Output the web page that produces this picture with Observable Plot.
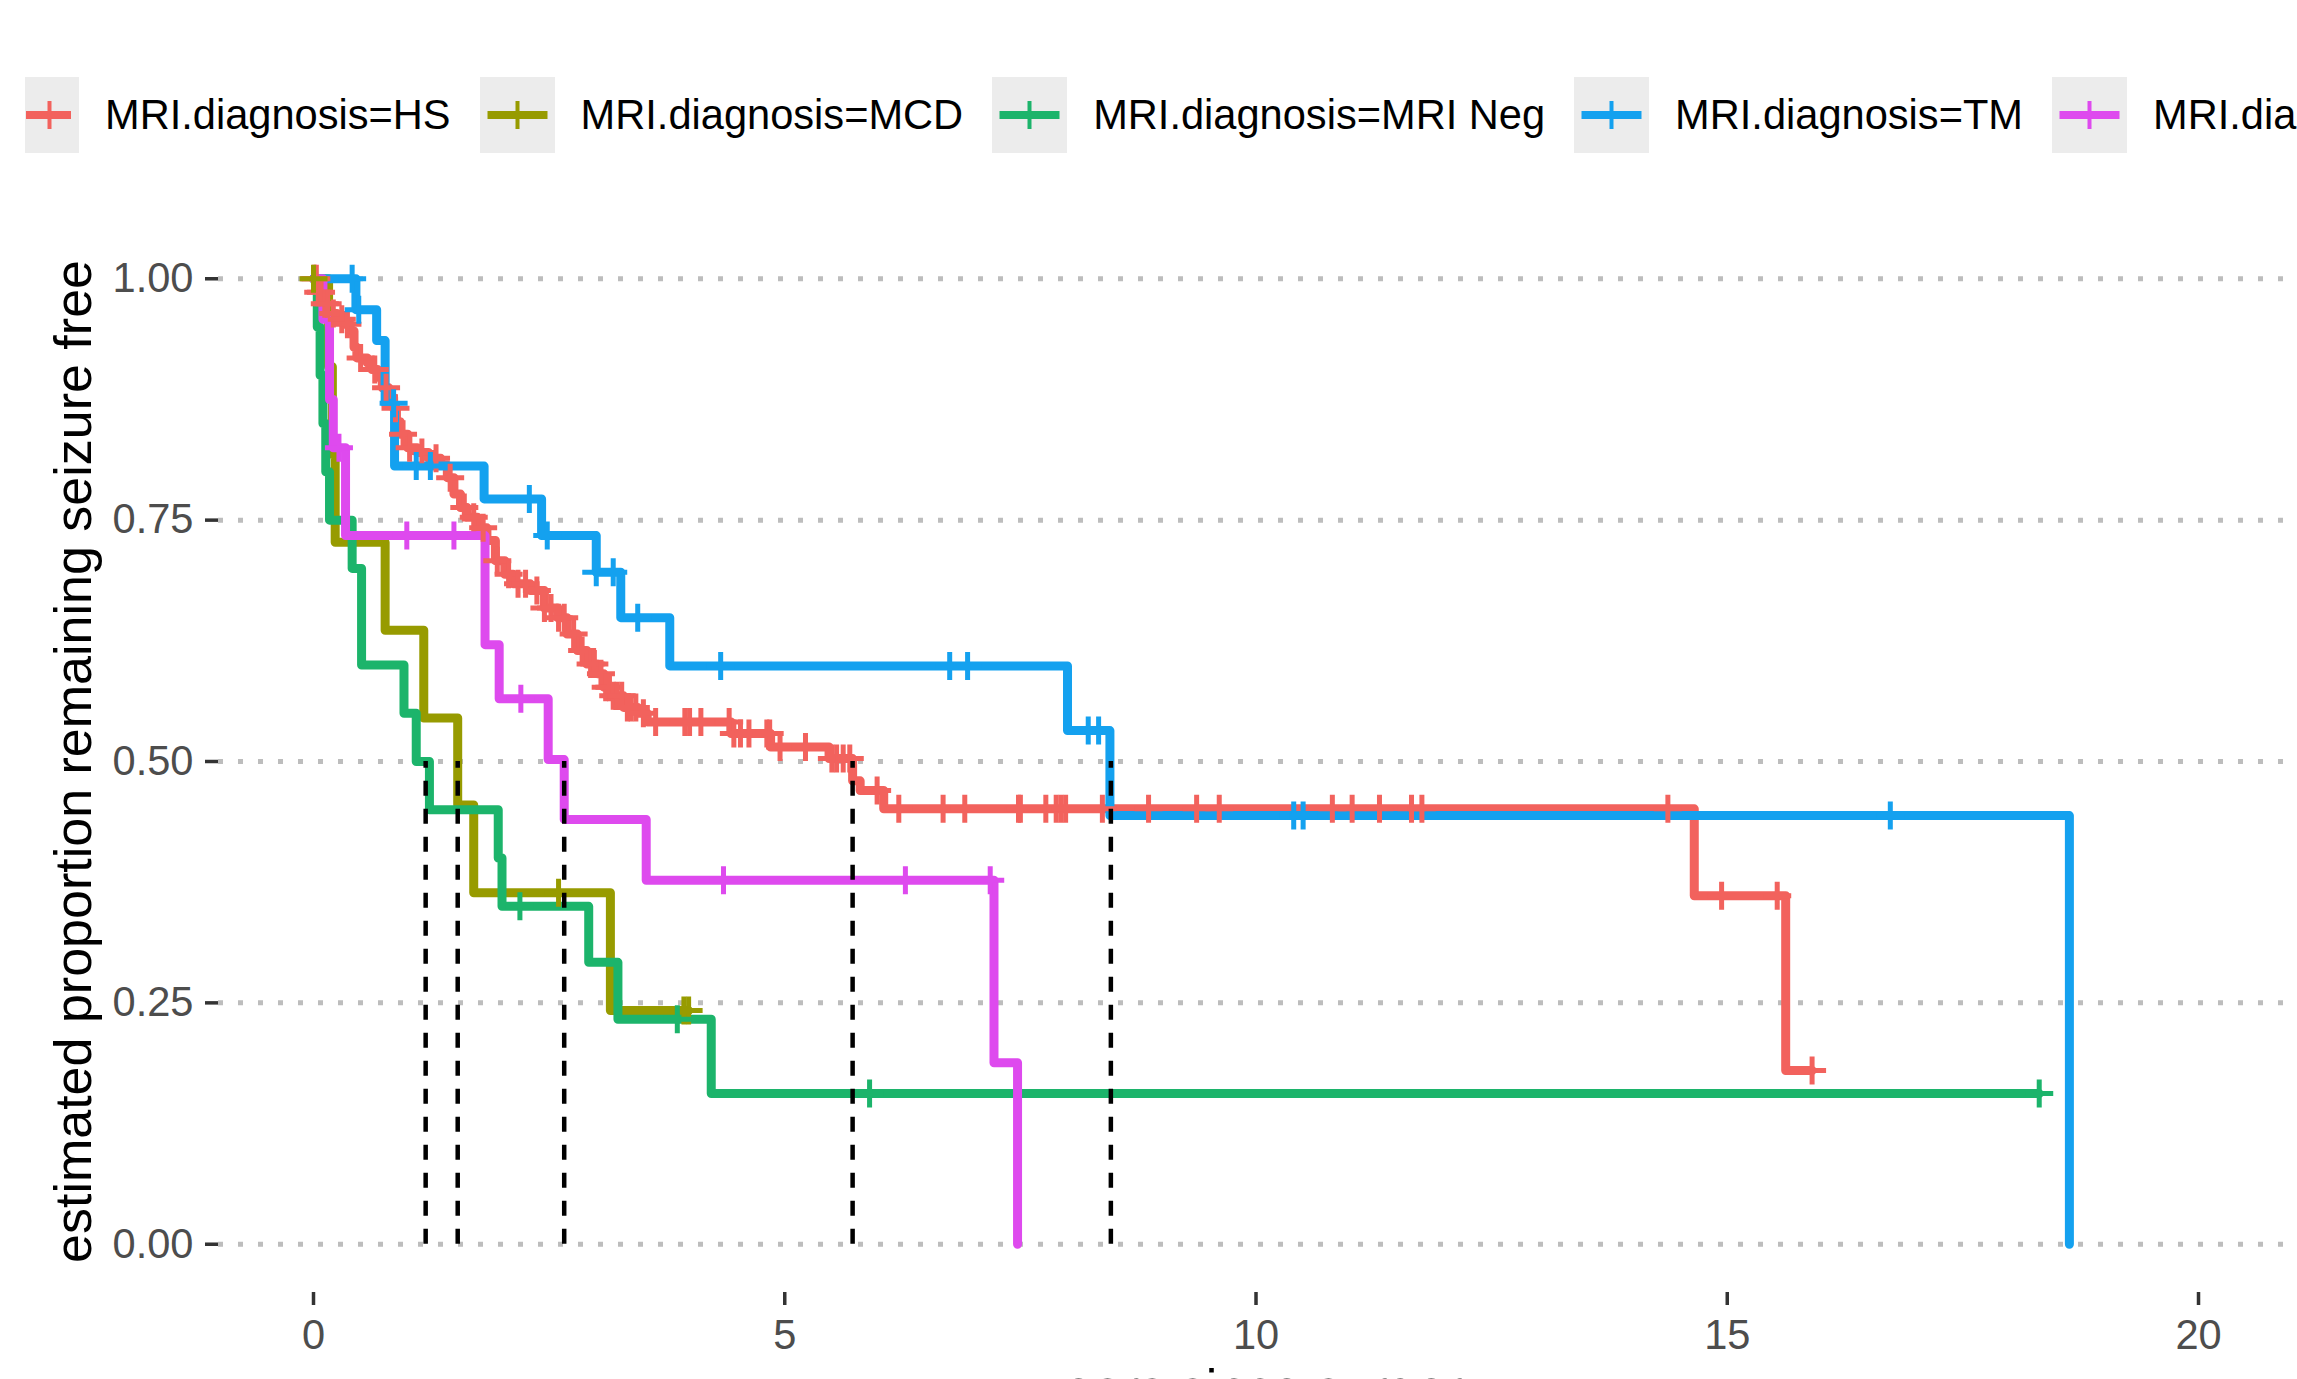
<!DOCTYPE html>
<html>
<head>
<meta charset="utf-8">
<script src="https://cdn.jsdelivr.net/npm/d3@7"></script>
<script src="https://cdn.jsdelivr.net/npm/@observablehq/plot@0.6"></script>
<style>
  html, body { margin: 0; padding: 0; background: #fff; }
  body { width: 2297px; height: 1379px; overflow: hidden; position: relative;
         font-family: "Liberation Sans", Arial, Helvetica, sans-serif; }
  #legend { position: absolute; left: 25px; top: 77px; display: flex; align-items: center; white-space: nowrap; }
  .item { display: flex; align-items: center; margin-right: 29px; }
  .item svg { display: block; }
  .item span { margin-left: 26px; font-size: 41.6px; color: #000; }
  #chart { position: absolute; left: 0; top: 200px; width: 2328px; }
  #chart svg { max-width: none !important; }
</style>
</head>
<body>
<div id="legend"></div>
<div id="chart"></div>
<script>
// ---------- data ----------
const groups = ["HS", "MCD", "MRI Neg", "TM", "Vascular"];
const groupColors = ["#F2625D", "#979B00", "#1CB46B", "#14A1EF", "#DE4AEE"];
const legendPrefix = "MRI.diagnosis=";

// HS: step times and survival after each step (last entry = end of follow-up)
const hsTime = [0, 0.04, 0.10, 0.18, 0.25, 0.32, 0.39, 0.43, 0.46, 0.57, 0.62, 0.68, 0.73, 0.80, 0.85, 0.88, 0.92, 1.00, 1.10, 1.22, 1.35, 1.42, 1.49, 1.56, 1.63, 1.74, 1.84, 1.93, 2.03, 2.12, 2.30, 2.45, 2.59, 2.69, 2.80, 2.90, 3.01, 3.08, 3.18, 3.29, 3.44, 3.54, 4.43, 4.85, 5.47, 5.72, 5.80, 6.05, 14.65, 15.62, 15.90];
const hsSurv = [1, 0.986, 0.974, 0.964, 0.958, 0.953, 0.946, 0.929, 0.918, 0.913, 0.906, 0.898, 0.887, 0.877, 0.866, 0.852, 0.839, 0.825, 0.820, 0.814, 0.807, 0.794, 0.777, 0.763, 0.753, 0.742, 0.729, 0.708, 0.694, 0.684, 0.677, 0.659, 0.649, 0.632, 0.615, 0.601, 0.591, 0.577, 0.568, 0.556, 0.550, 0.541, 0.529, 0.515, 0.503, 0.480, 0.470, 0.451, 0.361, 0.180, 0.180];
const hsCensor = [0.01, 0.03, 0.05, 0.08, 0.12, 0.15, 0.21, 0.30, 0.36, 0.50, 0.65, 0.77, 0.87, 0.95, 1.02, 1.15, 1.30, 1.45, 1.60, 1.70, 1.80, 1.95, 2.07, 2.17, 2.25, 2.37, 2.45, 2.52, 2.60, 2.66, 2.76, 2.85, 2.94, 2.98, 3.05, 3.10, 3.14, 3.18, 3.22, 3.27, 3.33, 3.37, 3.42, 3.50, 3.63, 3.94, 3.99, 4.11, 4.41, 4.46, 4.53, 4.62, 4.81, 4.84, 4.95, 5.22, 5.50, 5.55, 5.62, 5.69, 5.98, 6.21, 6.68, 6.91, 7.48, 7.50, 7.77, 7.88, 7.93, 7.98, 8.37, 8.86, 9.37, 9.61, 10.81, 11.02, 11.31, 11.65, 11.76, 14.37, 14.94, 15.53, 15.90];

// MCD
const mcdTime = [0, 0.16, 0.20, 0.23, 0.76, 1.17, 1.53, 1.70, 3.15, 3.98];
const mcdSurv = [1, 0.909, 0.818, 0.727, 0.636, 0.545, 0.455, 0.364, 0.242, 0.242];
const mcdCensor = [0.0, 2.60, 3.93, 3.98];

// MRI Neg
const negTime = [0, 0.04, 0.07, 0.10, 0.13, 0.17, 0.41, 0.51, 0.96, 1.09, 1.23, 1.96, 2.00, 2.92, 3.23, 4.22, 18.31];
const negSurv = [1, 0.95, 0.90, 0.85, 0.80, 0.75, 0.70, 0.60, 0.55, 0.50, 0.45, 0.40, 0.35, 0.292, 0.233, 0.156, 0.156];
const negCensor = [2.19, 3.86, 5.90, 18.31];

// TM
const tmTime = [0, 0.45, 0.67, 0.76, 0.86, 1.81, 2.42, 3.00, 3.26, 3.78, 8.00, 8.45, 18.63];
const tmSurv = [1, 0.968, 0.936, 0.871, 0.806, 0.772, 0.734, 0.696, 0.649, 0.599, 0.532, 0.444, 0];
const tmCensor = [0.41, 0.48, 0.85, 1.09, 1.24, 2.29, 2.48, 3.00, 3.18, 3.44, 4.32, 6.75, 6.94, 8.22, 8.33, 10.40, 10.50, 16.73];

// fifth group (magenta)
const vTime = [0, 0.10, 0.17, 0.21, 0.34, 1.82, 1.97, 2.49, 2.66, 3.53, 7.22, 7.47];
const vSurv = [1, 0.958, 0.875, 0.825, 0.734, 0.621, 0.565, 0.502, 0.440, 0.377, 0.188, 0];
const vCensor = [0.27, 0.99, 1.49, 2.20, 4.35, 6.28, 7.18];

// median survival times (dashed verticals)
const medianTimes = [5.72, 1.53, 1.19, 8.46, 2.66];

const xTicks = [0, 5, 10, 15, 20];
const yTicks = [0, 0.25, 0.5, 0.75, 1];
const xTitle = "years since surgery";
const yTitle = "estimated proportion remaining seizure free";

// ---------- build tables ----------
const series = [
  {group: groups[0], time: hsTime, surv: hsSurv, censor: hsCensor},
  {group: groups[1], time: mcdTime, surv: mcdSurv, censor: mcdCensor},
  {group: groups[2], time: negTime, surv: negSurv, censor: negCensor},
  {group: groups[3], time: tmTime, surv: tmSurv, censor: tmCensor},
  {group: groups[4], time: vTime, surv: vSurv, censor: vCensor}
];
const curveRows = series.flatMap(s => s.time.map((t, i) => ({group: s.group, time: t, surv: s.surv[i]})));
const censorRows = series.flatMap(s => s.censor.map(t => ({
  group: s.group, time: t, surv: s.surv[Math.max(0, d3.bisectRight(s.time, t) - 1)]
})));

// stroked "+" symbol (like ggplot shape 3)
const crossSymbol = {
  draw(context, size) {
    const r = Math.sqrt(size / Math.PI);
    context.moveTo(-r, 0); context.lineTo(r, 0);
    context.moveTo(0, -r); context.lineTo(0, r);
  }
};

// ---------- legend ----------
const legend = document.getElementById("legend");
groups.forEach((g, i) => {
  const item = document.createElement("div");
  item.className = "item";
  const c = groupColors[i];
  // the first key is partly hidden at its left side in the reference
  const w = i === 0 ? 54 : 75;
  const cx = i === 0 ? 24.5 : 37.5;
  const lx1 = i === 0 ? 1 : 7.5;
  const lx2 = i === 0 ? 46 : 67.5;
  item.innerHTML =
    `<svg width="${w}" height="76" viewBox="0 0 ${w} 76">
       <rect x="0" y="0" width="${w}" height="76" fill="#ececec"/>
       <line x1="${lx1}" x2="${lx2}" y1="38" y2="38" stroke="${c}" stroke-width="8"/>
       <line x1="${cx}" x2="${cx}" y1="24" y2="52" stroke="${c}" stroke-width="4"/>
     </svg><span>${legendPrefix}${g}</span>`;
  legend.appendChild(item);
});

// ---------- chart ----------
const chart = Plot.plot({
  width: 2328,
  height: 1220,
  marginLeft: 218,
  marginRight: 20,
  marginTop: 30,
  marginBottom: 128,
  x: {domain: [-1.008, 21.167]},
  y: {domain: [-0.05, 1.05]},
  color: {domain: groups, range: groupColors},
  style: {fontFamily: '"Liberation Sans", Arial, Helvetica, sans-serif', background: "white", overflow: "visible", maxWidth: "none"},
  marks: [
    Plot.ruleY(yTicks, {stroke: "#bdbdbd", strokeWidth: 5, strokeDasharray: "5,15"}),
    Plot.axisX(xTicks, {tickSize: 13, tickPadding: 14, fontSize: 41.6, fill: "#4d4d4d", stroke: "#333333", strokeWidth: 3.5, label: null, tickFormat: d => String(d)}),
    Plot.axisY(yTicks, {tickSize: 13, tickPadding: 12, fontSize: 41.6, fill: "#4d4d4d", stroke: "#333333", strokeWidth: 3.5, label: null, tickFormat: d3.format(".2f")}),
    Plot.line(curveRows, {x: "time", y: "surv", z: "group", stroke: "group", strokeWidth: 9, curve: "step-after"}),
    Plot.dot(censorRows, {x: "time", y: "surv", stroke: "group", symbol: crossSymbol, r: 14, strokeWidth: 5, fill: "none"}),
    Plot.ruleX(medianTimes, {x: d => d, y1: 0, y2: 0.5, stroke: "black", strokeWidth: 4.5, strokeDasharray: "15,13"}),
    Plot.text([xTitle], {frameAnchor: "bottom", textAnchor: "middle", lineAnchor: "top", dy: 77, fontSize: 52, fill: "black"}),
    Plot.text([yTitle], {frameAnchor: "left", textAnchor: "middle", rotate: -90, lineAnchor: "middle", dx: -144, fontSize: 52, fill: "black"})
  ]
});
document.getElementById("chart").appendChild(chart);
</script>
</body>
</html>
